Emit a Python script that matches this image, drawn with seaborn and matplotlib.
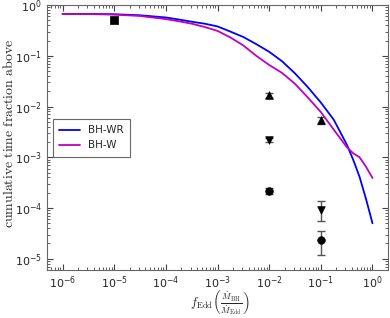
import numpy
import pandas as pd
import seaborn as sns
import matplotlib
matplotlib.use("Agg")
import matplotlib.pyplot as plt

# cumulative curves (log10 f_Edd)
log_f = [-6, -5.5, -5, -4.5, -4, -3.75, -3.5, -3.25, -3, -2.75, -2.5, -2.25,
         -2, -1.75, -1.5, -1.25, -1, -0.75, -0.5, -0.375, -0.25, -0.125, 0]
frac_wr = [0.67, 0.67, 0.66, 0.63, 0.57, 0.52, 0.47, 0.43, 0.38, 0.30, 0.235,
           0.17, 0.12, 0.078, 0.045, 0.024, 0.012, 0.0055, 0.0018, 0.0009,
           0.00041, 0.00015, 0.00005]
frac_w = [0.67, 0.665, 0.65, 0.61, 0.53, 0.48, 0.43, 0.37, 0.31, 0.23, 0.16,
          0.10, 0.066, 0.046, 0.028, 0.015, 0.0078, 0.0035, 0.0016, 0.0012,
          0.001, 0.00065, 0.00039]

# observational points
obs_x = [1e-5, 1e-2, 1e-2, 1e-2, 1e-1, 1e-1, 1e-1]
obs_y = [0.5, 0.0168, 0.0022, 2.2e-4, 0.0054, 9e-5, 2.3e-5]
obs_lo = [0.0, 0.002, 0.0002, 0.3e-4, 0.0008, 3.4e-5, 1.1e-5]
obs_hi = [0.0, 0.002, 0.0002, 0.3e-4, 0.0008, 5e-5, 1.3e-5]
obs_kind = ["s", "^", "v", "o", "^", "v", "o"]

sns.set_style("ticks", {"xtick.direction": "in", "ytick.direction": "in",
                        "axes.edgecolor": "#666666"})
plt.rcParams["font.family"] = ["DejaVu Sans"]
plt.rcParams["mathtext.fontset"] = "cm"
plt.rcParams["axes.unicode_minus"] = False
plt.rcParams["font.size"] = 8.5

df = pd.DataFrame({
    "f": numpy.concatenate([10.0 ** numpy.array(log_f)] * 2),
    "frac": frac_wr + frac_w,
    "model": ["BH-WR"] * len(log_f) + ["BH-W"] * len(log_f),
})

fig = plt.figure(figsize=(3.9, 3.18), dpi=100)
ax = fig.add_axes([0.1205, 0.151, 0.8745, 0.833])

sns.lineplot(data=df, x="f", y="frac", hue="model",
             palette={"BH-WR": "blue", "BH-W": "m"}, linewidth=1.3, ax=ax)

for x, y, lo, hi, m in zip(obs_x, obs_y, obs_lo, obs_hi, obs_kind):
    if hi > 0:
        ax.errorbar([x], [y], yerr=[[lo], [hi]], fmt="none", ecolor="#555555",
                    elinewidth=1.0, capsize=3, capthick=1.0)
    sns.scatterplot(x=[x], y=[y], marker=m, color="black", s=30,
                    edgecolor="black", linewidth=0.5, ax=ax, zorder=5)

ax.set_xscale("log")
ax.set_yscale("log")
ax.set_xlim(5e-7, 2)
ax.set_ylim(6e-6, 1)
ax.tick_params(which="both", top=True, right=True, labelsize=8,
               color="#444444")
ax.tick_params(which="major", length=4)
ax.tick_params(which="minor", length=2)

ax.set_xlabel(r"$f_{\rm Edd}\left(\frac{\dot{M}_{\rm BH}}{\dot{M}_{\rm Edd}}\right)$",
              fontsize=9)
ax.xaxis.set_label_coords(0.507, -0.072)
ax.set_ylabel(r"$\mathrm{cumulative\ time\ fraction\ above}$", fontsize=10)
ax.yaxis.set_label_coords(-0.092, 0.515)

leg = ax.legend(loc="upper left", bbox_to_anchor=(0.017, 0.57), fancybox=False,
                frameon=True, fontsize=7.5, handlelength=2.0, borderpad=0.6,
                borderaxespad=0)
leg.get_frame().set_edgecolor("#444444")
leg.get_frame().set_linewidth(0.8)

plt.savefig("out.png", dpi=100)
